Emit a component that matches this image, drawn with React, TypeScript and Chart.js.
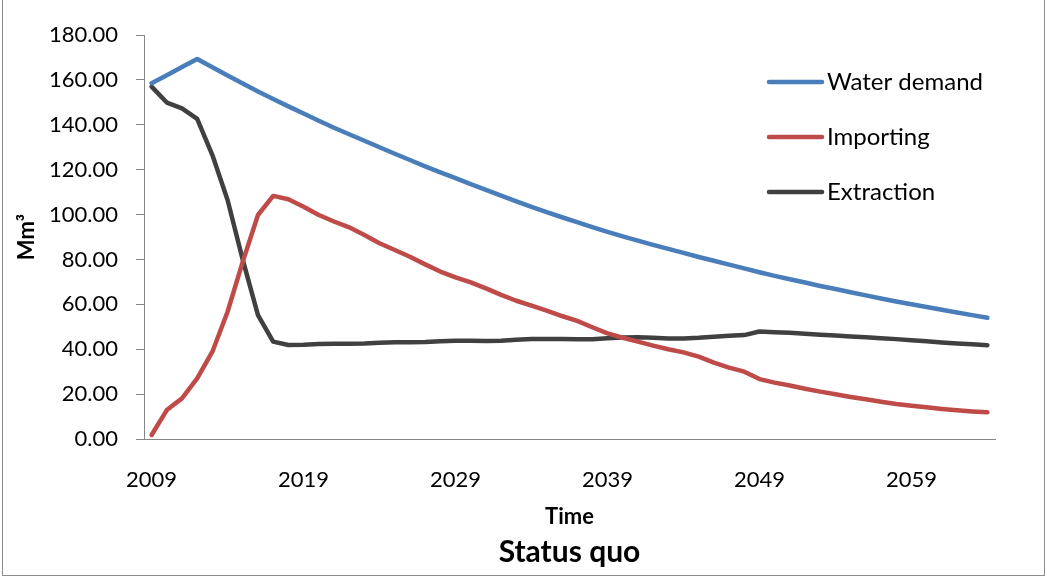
import React, { useEffect, useRef } from 'react';
import { Chart, registerables } from 'chart.js';

Chart.register(...registerables);

const years = [
  '2009', '2010', '2011', '2012', '2013', '2014', '2015', '2016', '2017', '2018',
  '2019', '2020', '2021', '2022', '2023', '2024', '2025', '2026', '2027', '2028',
  '2029', '2030', '2031', '2032', '2033', '2034', '2035', '2036', '2037', '2038',
  '2039', '2040', '2041', '2042', '2043', '2044', '2045', '2046', '2047', '2048',
  '2049', '2050', '2051', '2052', '2053', '2054', '2055', '2056', '2057', '2058',
  '2059', '2060', '2061', '2062', '2063', '2064',
];

const xTickLabels = ['2009', '2019', '2029', '2039', '2049', '2059'];

const waterDemand = [
  158.5, 162.1, 165.7, 169.3, 165.6, 162.0, 158.4, 154.8, 151.5, 148.2,
  145.0, 141.8, 138.7, 135.8, 132.9, 130.0, 127.1, 124.3, 121.5, 118.8,
  116.2, 113.6, 111.0, 108.4, 105.9, 103.4, 101.1, 98.8, 96.6, 94.4,
  92.3, 90.3, 88.4, 86.5, 84.7, 82.9, 81.1, 79.4, 77.7, 76.0,
  74.3, 72.7, 71.2, 69.7, 68.2, 66.8, 65.4, 64.0, 62.6, 61.3,
  60.0, 58.8, 57.6, 56.4, 55.2, 54.0,
];

const importing = [
  1.8, 12.9, 18.1, 27.0, 38.9, 56.7, 79.0, 99.8, 108.3, 106.8,
  103.5, 99.8, 96.9, 94.3, 90.9, 87.2, 84.2, 81.2, 77.8, 74.6,
  72.0, 69.8, 67.1, 64.2, 61.6, 59.4, 57.2, 54.8, 52.6, 49.8,
  47.1, 45.1, 43.4, 41.6, 40.0, 38.6, 36.7, 34.0, 31.8, 30.0,
  26.7, 25.1, 23.8, 22.4, 21.1, 19.9, 18.7, 17.7, 16.6, 15.6,
  14.8, 14.1, 13.4, 12.8, 12.3, 11.9,
];

const extraction = [
  157.0, 149.9, 147.3, 142.6, 126.5, 106.5, 79.8, 55.2, 43.4, 41.9,
  42.0, 42.3, 42.4, 42.4, 42.5, 42.9, 43.1, 43.1, 43.2, 43.5,
  43.8, 43.8, 43.7, 43.8, 44.2, 44.6, 44.6, 44.5, 44.4, 44.4,
  44.9, 45.2, 45.3, 45.1, 44.8, 44.8, 45.1, 45.6, 46.0, 46.3,
  47.9, 47.6, 47.3, 46.9, 46.5, 46.1, 45.7, 45.3, 44.9, 44.5,
  44.0, 43.5, 43.0, 42.6, 42.2, 41.8,
];

const seriesNames = ['Water demand', 'Importing', 'Extraction'];
const seriesColors = ['#4A7EBB', '#BE4B48', '#404040'];

const chartTitle = 'Status quo';
const xAxisTitle = 'Time';
const yAxisTitle = 'Mm³';

const FONT = 'Lato, "Open Sans", sans-serif';
const AXIS_GRAY = '#868686';

const legendPlugin = {
  id: 'excelLegend',
  afterDraw(chart: any) {
    const ctx = chart.ctx;
    ctx.save();
    chart.data.datasets.forEach((ds: any, i: number) => {
      const y = 82 + i * 55;
      ctx.strokeStyle = ds.borderColor;
      ctx.lineWidth = 4.5;
      ctx.lineCap = 'round';
      ctx.beginPath();
      ctx.moveTo(769, y);
      ctx.lineTo(822, y);
      ctx.stroke();
      ctx.fillStyle = '#000000';
      ctx.font = `24px ${FONT}`;
      ctx.textAlign = 'left';
      ctx.textBaseline = 'middle';
      ctx.fillText(ds.label, 827, y);
    });
    ctx.restore();
  },
};

export default function App() {
  const canvasRef = useRef<HTMLCanvasElement | null>(null);

  useEffect(() => {
    const canvas = canvasRef.current;
    if (!canvas) return;
    const datasetValues = [waterDemand, importing, extraction];
    const chart = new Chart(canvas, {
      type: 'line',
      data: {
        labels: years,
        datasets: datasetValues.map((vals, i) => ({
          label: seriesNames[i],
          data: vals,
          borderColor: seriesColors[i],
          backgroundColor: seriesColors[i],
          borderWidth: 4.5,
          pointRadius: 0,
          tension: 0,
          borderCapStyle: 'round' as const,
          borderJoinStyle: 'round' as const,
        })),
      },
      options: {
        responsive: false,
        animation: false,
        events: [],
        layout: { padding: { left: 0, top: 35, right: 52, bottom: 0 } },
        plugins: {
          legend: { display: false },
          tooltip: { enabled: false },
          title: {
            display: true,
            text: chartTitle,
            position: 'bottom',
            fullSize: false,
            color: '#000000',
            font: { family: FONT, size: 30, weight: 'bold' },
            padding: { top: 0, bottom: 8 },
          },
        },
        scales: {
          x: {
            type: 'category',
            offset: true,
            grid: {
              display: true,
              drawOnChartArea: false,
              drawTicks: false,
              color: AXIS_GRAY,
            },
            border: { display: true, color: AXIS_GRAY, width: 1 },
            ticks: {
              autoSkip: false,
              maxRotation: 0,
              minRotation: 0,
              padding: 28,
              color: '#000000',
              font: { family: FONT, size: 22 },
              callback: (_v: any, idx: number) =>
                xTickLabels.includes(years[idx]) ? years[idx] : '',
            },
            title: {
              display: true,
              text: xAxisTitle,
              color: '#000000',
              font: { family: FONT, size: 22, weight: 'bold' },
              padding: { top: 0, bottom: 4 },
            },
            afterFit: (scale: any) => {
              scale.height = 95;
            },
          },
          y: {
            min: 0,
            max: 180,
            grid: {
              display: true,
              drawOnChartArea: false,
              drawTicks: true,
              tickLength: 8,
              color: AXIS_GRAY,
            },
            border: { display: true, color: AXIS_GRAY, width: 1 },
            ticks: {
              stepSize: 20,
              padding: 18,
              color: '#000000',
              font: { family: FONT, size: 22 },
              callback: (v: any) => Number(v).toFixed(2),
            },
            title: {
              display: true,
              text: yAxisTitle,
              color: '#000000',
              font: { family: FONT, size: 22, weight: 'bold' },
              padding: { top: 14, bottom: 0 },
            },
            afterFit: (scale: any) => {
              scale.width = 144;
            },
          },
        },
      },
      plugins: [legendPlugin],
    });
    return () => chart.destroy();
  }, []);

  return (
    <div
      style={{
        position: 'fixed',
        left: 0,
        top: 0,
        width: 1047,
        height: 578,
        background: '#ffffff',
        overflow: 'hidden',
      }}
    >
      <canvas
        ref={canvasRef}
        width={1047}
        height={578}
        style={{ position: 'absolute', left: 0, top: 0, width: 1047, height: 578 }}
      />
      <div
        style={{
          position: 'absolute',
          left: 2,
          top: -2,
          width: 1043,
          height: 578,
          boxSizing: 'border-box',
          border: '1px solid #8c8c8c',
          pointerEvents: 'none',
        }}
      />
    </div>
  );
}
